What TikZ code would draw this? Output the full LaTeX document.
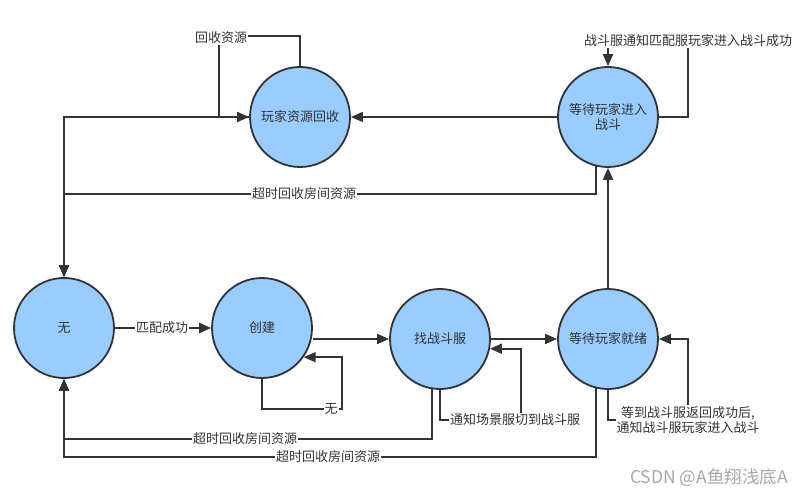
\documentclass[tikz,border=0pt]{standalone}
\usepackage{fontspec}
\setmainfont{Noto Sans CJK SC}
\usetikzlibrary{arrows.meta}
\definecolor{fillb}{HTML}{99CCFF}
\definecolor{lnc}{HTML}{333333}
\definecolor{wm}{HTML}{A8A8A8}
\begin{document}
\begin{tikzpicture}[x=1pt,y=-1pt,
  state/.style={circle,draw=lnc,fill=fillb,line width=1.8pt,minimum size=100pt,inner sep=0pt,text=lnc,font=\fontsize{13}{15.5}\selectfont,align=center},
  conn/.style={draw=lnc,line width=1.8pt,-{Triangle[length=12pt,width=10pt]}},
  plain/.style={draw=lnc,line width=1.8pt},
  lbl/.style={fill=white,inner sep=1pt,text=lnc,font=\fontsize{13}{15.5}\selectfont,align=center}]
\useasboundingbox (0,0) rectangle (803,497);
\fill[white] (0,0) rectangle (803,497);

\node[state] (res) at (300,117) {玩家资源回收};
\node[state] (wfight) at (608,117) {等待玩家进入\\战斗};
\node[state] (none) at (64,328) {无};
\node[state] (create) at (262,328) {创建};
\node[state] (find) at (440,339) {找战斗服};
\node[state] (ready) at (608,339) {等待玩家就绪};

\coordinate (q1) at (219,36);
\coordinate (w1) at (688,41);
\coordinate (t1) at (64,194);
\coordinate (t2) at (64,439);
\coordinate (t3) at (64,457);
\coordinate (c1) at (342,409);
\coordinate (f1) at (521,420);
\coordinate (r1) at (688,420);

% none -> create
\draw[conn] (none.east) -- (create.west);
\node[lbl] (l1) at (162,328) {匹配成功};
% create -> find
\draw[conn] (create.east |- find.west) -- (find.west);
% create self loop
\draw[conn] (create.south) |- (c1) |- (create.-35.5);
\node[lbl] (l2) at (331,409) {无};
% find -> ready
\draw[conn] (find.east) -- (ready.west);
% find self loop
\draw[conn] (find.south) |- (f1) |- (find.-11.5);
\node[lbl,anchor=west] (l3) at (449,420) {通知场景服切到战斗服};
% find -> none
\draw[conn] (find.-99.2) |- (t2) -- (none.south);
\node[lbl] (l4) at (245,439) {超时回收房间资源};
% ready -> none
\draw[conn] (ready.256) |- (t3) -- (none.south);
\node[lbl] (l5) at (328,457) {超时回收房间资源};
% ready self loop
\draw[conn] (ready.south) |- (r1) |- (ready.east);
\node[lbl] (l6) at (688,420) {等到战斗服返回成功后,\\通知战斗服玩家进入战斗};
% ready -> wfight
\draw[conn] (ready.north) -- (wfight.south);
% wfight self loop
\draw[conn] (wfight.east) -| (w1) -| (wfight.north);
\node[lbl] (l7) at (688,41) {战斗服通知匹配服玩家进入战斗成功};
% wfight -> res
\draw[conn] (wfight.west) -- (res.east);
% wfight -> none
\draw[conn] (wfight.256) |- (t1) -- (none.north);
\node[lbl] (l8) at (304,194) {超时回收房间资源};
% res -> none
\draw[conn] (res.west) -| (none.north);
% res self loop
\draw[conn] (res.north) |- (q1) |- (res.west);
\node[lbl] (l9) at (221,38) {回收资源};

\node[text=wm,font=\fontsize{17.5}{20}\selectfont,anchor=east,inner sep=0pt] (wmk) at (788,478) {CSDN @A鱼翔浅底A};
\end{tikzpicture}
\end{document}
